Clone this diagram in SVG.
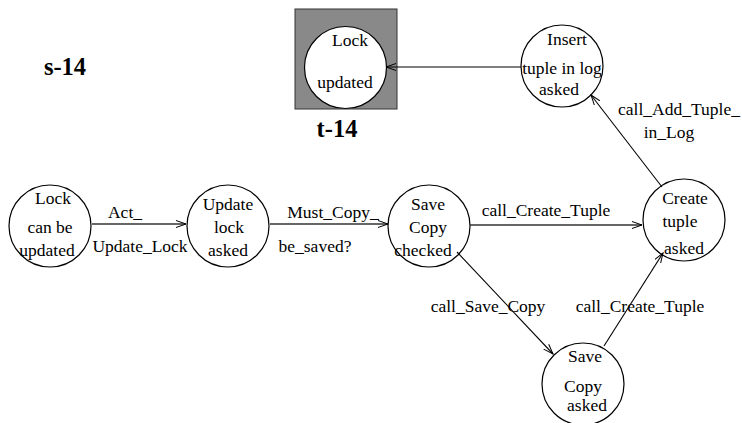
<svg xmlns="http://www.w3.org/2000/svg" width="742" height="423" viewBox="0 0 742 423">
<style>
text{font-family:"Liberation Serif","Times New Roman",serif;font-size:17.5px;fill:#000;text-anchor:middle}
.b{font-weight:bold;font-size:24.5px}
.n{fill:#fff;stroke:#000;stroke-width:1.2}
.e{fill:none;stroke:#000;stroke-width:1.1;marker-end:url(#a)}
.h{stroke-width:1.6;stroke:#333}
</style>
<defs>
<marker id="a" markerWidth="12" markerHeight="8" refX="10" refY="4" orient="auto" markerUnits="userSpaceOnUse">
<path d="M0,0.5 L10,4 L0,7.5" fill="none" stroke="#000" stroke-width="1"/>
</marker>
</defs>
<text class="b" x="65" y="75">s-14</text>
<text class="b" x="337" y="137">t-14</text>
<g id="t14">
<rect x="295" y="9" width="102" height="100" fill="#898989" stroke="#333" stroke-width="1"/>
<circle class="n" cx="345.5" cy="67.5" r="41"/>
<text x="350" y="46">Lock</text>
<text x="345" y="88">updated</text>
</g>
<g id="insert">
<circle class="n" cx="562" cy="66" r="41"/>
<text x="567" y="45">Insert</text>
<text x="562" y="74">tuple in log</text>
<text x="559" y="95">asked</text>
</g>
<g id="lock">
<circle class="n" cx="50" cy="226" r="41"/>
<text x="53" y="204">Lock</text>
<text x="50" y="233">can be</text>
<text x="47" y="256">updated</text>
</g>
<g id="update">
<circle class="n" cx="228" cy="226" r="41"/>
<text x="228" y="210">Update</text>
<text x="229" y="233">lock</text>
<text x="228" y="256">asked</text>
</g>
<g id="savecheck">
<circle class="n" cx="429" cy="226" r="41"/>
<text x="428" y="210">Save</text>
<text x="428" y="233">Copy</text>
<text x="423" y="256">checked</text>
</g>
<g id="create">
<circle class="n" cx="684" cy="220" r="41"/>
<text x="685" y="204">Create</text>
<text x="680" y="227">tuple</text>
<text x="684" y="254">asked</text>
</g>
<g id="saveasked">
<circle class="n" cx="583" cy="384" r="41"/>
<text x="585" y="362">Save</text>
<text x="583" y="392">Copy</text>
<text x="587" y="411">asked</text>
</g>
<g id="connectors">
<line class="e" x1="521" y1="67" x2="386" y2="67"/>
<line class="e" x1="662" y1="187" x2="591" y2="95"/>
<line class="e h" x1="92" y1="224" x2="186" y2="224"/>
<line class="e h" x1="270" y1="224" x2="388" y2="224"/>
<line class="e h" x1="470" y1="225" x2="642" y2="225"/>
<line class="e" x1="457" y1="252" x2="553" y2="354"/>
<line class="e" x1="604" y1="346" x2="663" y2="253"/>
<text x="679" y="115">call_Add_Tuple_</text>
<text x="669" y="138">in_Log</text>
<text x="125" y="218">Act_</text>
<text x="140" y="252">Update_Lock</text>
<text x="333" y="218">Must_Copy_</text>
<text x="315" y="252">be_saved?</text>
<text x="546" y="216">call_Create_Tuple</text>
<text x="488" y="312">call_Save_Copy</text>
<text x="640" y="312">call_Create_Tuple</text>
</g>
</svg>
